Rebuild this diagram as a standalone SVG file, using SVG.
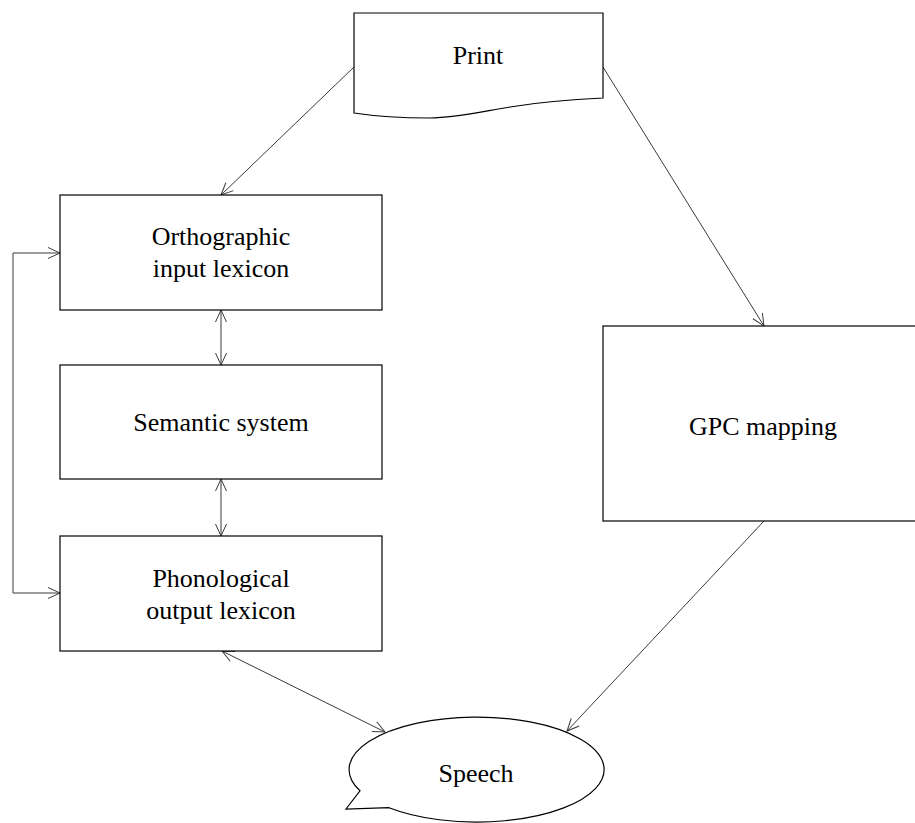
<svg xmlns="http://www.w3.org/2000/svg" width="915" height="823" viewBox="0 0 915 823">
<style>
.box{fill:#fff;stroke:#000;stroke-width:1.2}
.lbl{font-family:"Liberation Serif","Times New Roman",serif;font-size:26px;fill:#000;text-anchor:middle}
.con{fill:none;stroke:#3a3a3a;stroke-width:1}
</style>
<defs>
<marker id="arr" markerUnits="userSpaceOnUse" markerWidth="14" markerHeight="14" viewBox="0 0 14 14" refX="13" refY="7" orient="auto-start-reverse">
<path d="M1,1.5 L13,7 L1,12.5" fill="none" stroke="#3a3a3a" stroke-width="1"/>
</marker>
</defs>
<rect width="915" height="823" fill="#fff"/>
<g id="connectors">
<line class="con" x1="354" y1="67" x2="221" y2="195" marker-end="url(#arr)"/>
<line class="con" x1="603" y1="67" x2="764" y2="326" marker-end="url(#arr)"/>
<line class="con" x1="221" y1="310" x2="221" y2="365" marker-start="url(#arr)" marker-end="url(#arr)"/>
<line class="con" x1="221" y1="479" x2="221" y2="536" marker-start="url(#arr)" marker-end="url(#arr)"/>
<polyline class="con" points="60,253 13,253 13,593 60,593" marker-start="url(#arr)" marker-end="url(#arr)"/>
<line class="con" x1="222" y1="651" x2="385" y2="732" marker-start="url(#arr)" marker-end="url(#arr)"/>
<line class="con" x1="764" y1="521" x2="567" y2="731" marker-end="url(#arr)"/>
</g>
<g id="print">
<path class="box" d="M354,13 L603,13 L603,98 C 580,99 540,102 510,107 C 480,112 455,118 430,118 C 405,118 380,117 354,113 Z"/>
<text class="lbl" x="478" y="64">Print</text>
</g>
<g id="orthographic">
<rect class="box" x="60" y="195" width="322" height="115"/>
<text class="lbl" x="221" y="245">Orthographic</text>
<text class="lbl" x="221" y="277">input lexicon</text>
</g>
<g id="semantic">
<rect class="box" x="60" y="365" width="322" height="114"/>
<text class="lbl" x="221" y="431">Semantic system</text>
</g>
<g id="phonological">
<rect class="box" x="60" y="536" width="322" height="115"/>
<text class="lbl" x="221" y="587">Phonological</text>
<text class="lbl" x="221" y="619">output lexicon</text>
</g>
<g id="gpc">
<rect class="box" x="603" y="326" width="322" height="195"/>
<text class="lbl" x="763" y="435">GPC mapping</text>
</g>
<g id="speech">
<path class="box" d="M389,807.7 L346,809 L360,790.8 A127.5 52.5 0 1 1 389,807.7 Z"/>
<text class="lbl" x="476" y="782">Speech</text>
</g>
</svg>
